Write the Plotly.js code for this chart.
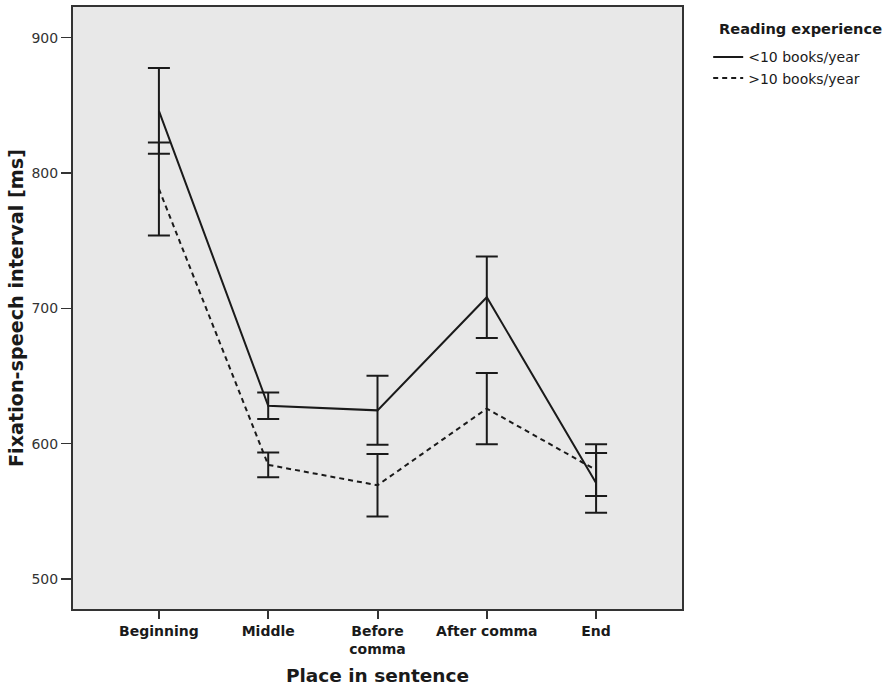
<!DOCTYPE html>
<html>
<head>
<meta charset="utf-8">
<script src="https://cdn.plot.ly/plotly-3.0.1.min.js"></script>
<style>html,body{margin:0;padding:0;background:#fff;}#chart{width:889px;height:687px;}</style>
</head>
<body>
<div id="chart"></div>
<script>
const categories = ['Beginning', 'Middle', 'Before<br>comma', 'After comma', 'End'];
const seriesNames = ['<10 books/year', '>10 books/year'];
const lowReadMean = [845.9, 628.0, 624.6, 708.2, 571.0];
const lowReadCI = [31.7, 9.85, 25.5, 30.2, 22.0];
const highReadMean = [788.2, 584.3, 569.25, 625.9, 580.5];
const highReadCI = [34.4, 9.1, 23.15, 26.3, 19.1];
const yTicks = [500, 600, 700, 800, 900];

const fontFam = '"DejaVu Sans", Verdana, sans-serif';
const ink = '#1a1a1a';

function trace(name, y, err, dash) {
  return {
    type: 'scatter', mode: 'lines', name: name,
    x: categories, y: y,
    line: {color: ink, width: 2, dash: dash},
    error_y: {type: 'data', array: err, visible: true, width: 11, thickness: 2, color: ink}
  };
}

const data = [
  trace(seriesNames[0], lowReadMean, lowReadCI, 'solid'),
  trace(seriesNames[1], highReadMean, highReadCI, '5px,4px')
];

const layout = {
  width: 889, height: 687,
  margin: {l: 73, r: 207, t: 7, b: 78},
  paper_bgcolor: '#ffffff',
  plot_bgcolor: '#e8e8e8',
  font: {family: fontFam, color: ink},
  showlegend: true,
  legend: {
    x: 1.043, xanchor: 'left', y: 0.943, yanchor: 'top',
    bgcolor: 'rgba(0,0,0,0)', borderwidth: 0,
    font: {family: fontFam, size: 14, color: ink},
    tracegroupgap: 0, itemwidth: 30
  },
  xaxis: {
    type: 'category', range: [-0.786, 4.786],
    showgrid: false, zeroline: false,
    showline: true, linecolor: '#333', linewidth: 2, mirror: true,
    ticks: 'outside', ticklen: 8, tickwidth: 2, tickcolor: '#333',
    tickfont: {family: fontFam, size: 14, color: ink, weight: 'bold'},
    title: {text: '<b>Place in sentence</b>', font: {family: fontFam, size: 18.5, color: ink}, standoff: 13}
  },
  yaxis: {
    range: [477.8, 922.7],
    tickvals: yTicks, ticktext: yTicks.map(String),
    showgrid: false, zeroline: false,
    showline: true, linecolor: '#333', linewidth: 2, mirror: true,
    ticks: 'outside', ticklen: 10, tickwidth: 1.5, tickcolor: '#333',
    tickfont: {family: fontFam, size: 14, color: '#333'},
    title: {text: '<b>Fixation-speech interval [ms]</b>', font: {family: fontFam, size: 19.2, color: ink}, standoff: 3}
  },
  annotations: [{
    text: '<b>Reading experience</b>', xref: 'paper', yref: 'paper',
    x: 1.058, y: 1.0, xanchor: 'left', yanchor: 'top', yshift: -11,
    showarrow: false, font: {family: fontFam, size: 14.6, color: ink}
  }]
};

Plotly.newPlot('chart', data, layout, {displayModeBar: false, staticPlot: true});
</script>
</body>
</html>
